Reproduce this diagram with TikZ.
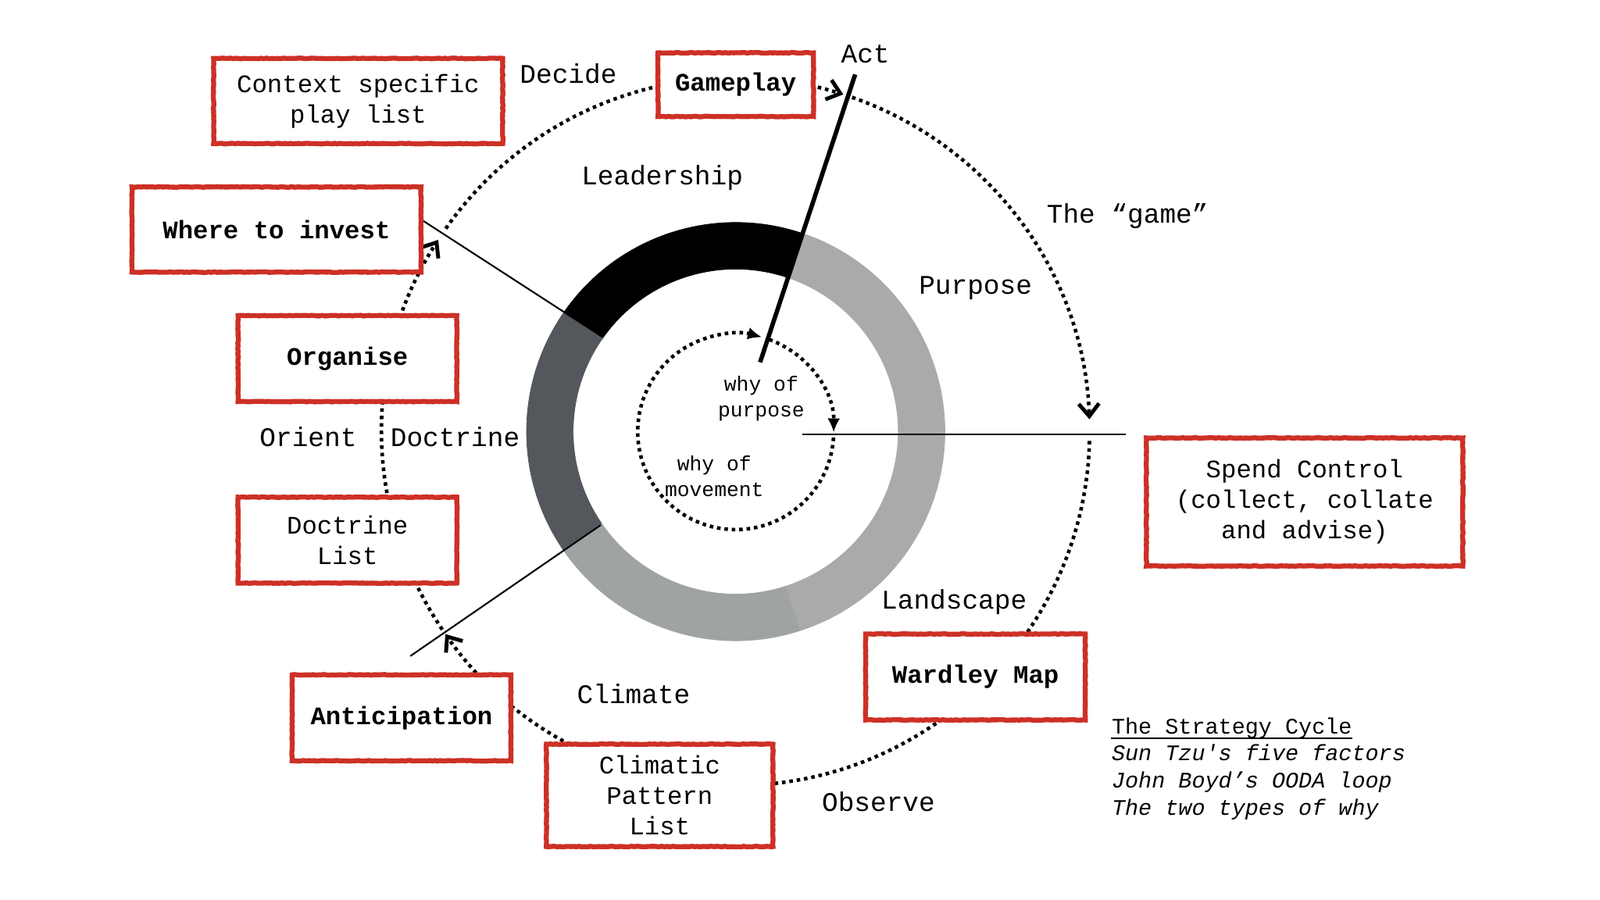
\documentclass[tikz,border=0pt]{standalone}
\usepackage{fontspec}
\setmainfont{Liberation Mono}
\usetikzlibrary{arrows.meta, positioning, decorations.pathmorphing}
\definecolor{boxRed}{RGB}{205, 48, 38}
\definecolor{ringDark}{RGB}{84, 88, 93}
\definecolor{ringMid}{RGB}{160, 163, 163}
\definecolor{ringLight}{RGB}{170, 170, 170}

\begin{document}
\begin{tikzpicture}[
    cyclebox/.style={
        rectangle,
        draw=boxRed,
        line width=1.8pt,
        fill=white,
        align=center,
        inner sep=0pt,
        font=\fontsize{9.2}{11.1}\selectfont,
        decorate,
        decoration={random steps, segment length=1pt, amplitude=0.12pt}
    },
    keybox/.style={
        cyclebox,
        font=\fontsize{9.2}{11.1}\selectfont\bfseries
    },
    steplabel/.style={
        font=\fontsize{9.8}{11.8}\selectfont,
        inner sep=1pt
    },
    whylabel/.style={
        font=\fontsize{7.5}{9.3}\selectfont,
        align=center,
        inner sep=0pt
    },
    legendtitle/.style={
        font=\fontsize{8.1}{9.9}\selectfont,
        inner sep=0pt
    },
    legendline/.style={
        font=\fontsize{8.1}{9.9}\selectfont\itshape,
        inner sep=0pt
    },
    cyclearc/.style={
        line width=1.3pt,
        dash pattern=on 1.3pt off 1.4pt
    },
    divider/.style={
        line width=0.6pt
    },
    openhead/.style={-{Straight Barb[length=1.6mm, width=2.6mm, line width=1.4pt]}},
    solidhead/.style={-{Latex[length=1.8mm, width=1.6mm]}}
]
\useasboundingbox (-9.416,-5.995) rectangle (11.062,5.524);

% Ring - Leadership, Doctrine, Climate, Landscape
\foreach \a/\b/\c in {71.3/145/black, 145/214.6/ringDark, 214.6/288/ringMid, 288/431.3/ringLight}
    \filldraw[fill=\c, draw=\c, line width=0.2pt] (\a:2.677) arc[start angle=\a, end angle=\b, radius=2.677]
        -- (\b:2.08) arc[start angle=\b, end angle=\a, radius=2.08] -- cycle;

% Dividers
\coordinate (acttop) at (71.5:4.82);
\coordinate (actend) at (70.6:0.94);
\coordinate (investin) at (144.6:2.09);
\coordinate (investout) at (146:4.82);
\coordinate (lowin) at (214.7:2.1);
\coordinate (lowout) at (214.6:5.06);
\coordinate (hin) at (0.85,-0.04);
\coordinate (hout) at (4.99,-0.04);

% Outer loop - Observe, Orient, Decide, Act
\draw[cyclearc] (145:4.53) arc[start angle=145, end angle=95, radius=4.53];
\draw[cyclearc, openhead] (85:4.53) arc[start angle=85, end angle=72.3, radius=4.53];
\draw[cyclearc, openhead] (70.8:4.53) arc[start angle=70.8, end angle=2, radius=4.53];
\draw[cyclearc, openhead] (-1.5:4.53) arc[start angle=-1.5, end angle=-145.1, radius=4.53];
\draw[cyclearc, openhead] (214:4.53) arc[start angle=214, end angle=147.2, radius=4.53];

% Inner loop - the two types of why
\draw[cyclearc, solidhead] (70:1.254) arc[start angle=70, end angle=-0.5, radius=1.254];
\draw[cyclearc, solidhead] (-3.5:1.254) arc[start angle=-3.5, end angle=-285.5, radius=1.254];

\draw[line width=1.6pt] (acttop) -- (actend);
\draw[divider] (investout) -- (investin);
\draw[divider] (lowout) -- (lowin);
\draw[divider] (hin) -- (hout);

% Boxes
\node[cyclebox, minimum width=3.7cm, minimum height=1.09cm] (playlist) at (-4.832,4.231) {Context specific\\play list};
\node[keybox, minimum width=1.99cm, minimum height=0.815cm] (gameplay) at (0,4.44) {Gameplay};
\node[keybox, minimum width=3.7cm, minimum height=1.09cm] (invest) at (-5.877,2.586) {Where to invest};
\node[keybox, minimum width=2.8cm, minimum height=1.1cm] (organise) at (-4.969,0.934) {Organise};
\node[cyclebox, minimum width=2.8cm, minimum height=1.1cm, below=1.16cm of organise] (doctrinelist) {Doctrine\\List};
\node[keybox, minimum width=2.8cm, minimum height=1.1cm] (anticipation) at (-4.277,-3.663) {Anticipation};
\node[cyclebox, minimum width=2.9cm, minimum height=1.31cm] (climatic) at (-0.973,-4.656) {Climatic\\Pattern\\List};
\node[keybox, minimum width=2.81cm, minimum height=1.1cm] (wardley) at (3.069,-3.141) {Wardley Map};
\node[cyclebox, minimum width=4.05cm, minimum height=1.64cm] (spend) at (7.281,-0.901) {Spend Control\\(collect, collate\\and advise)};

% Labels
\node[steplabel] (decide) at (-2.142,4.584) {Decide};
\node[steplabel] (act) at (1.659,4.832) {Act};
\node[steplabel] (leadership) at (-0.940,3.252) {Leadership};
\node[steplabel] (game) at (5.015,2.756) {The “game”};
\node[steplabel] (purpose) at (3.069,1.841) {Purpose};
\node[steplabel] (orient) at (-5.472,-0.065) {Orient};
\node[steplabel, right=0.35cm of orient] (doctrine) {Doctrine};
\node[steplabel] (landscape) at (2.795,-2.181) {Landscape};
\node[steplabel] (climate) at (-1.306,-3.356) {Climate};
\node[steplabel] (observe) at (1.828,-4.741) {Observe};
\node[whylabel] (whypurpose) at (0.327,0.424) {why of\\purpose};
\node[whylabel] (whymovement) at (-0.274,-0.568) {why of\\movement};

% Legend
\node[legendtitle, anchor=base west] (lg1) at (4.806,-3.866) {The Strategy Cycle};
\draw[line width=0.5pt] ([yshift=-1.6pt]lg1.base west) -- ([yshift=-1.6pt]lg1.base east);
\node[legendline, below=0.347cm of lg1.base west, anchor=base west] (lg2) {Sun Tzu\textquotesingle s five factors};
\node[legendline, below=0.347cm of lg2.base west, anchor=base west] (lg3) {John Boyd’s OODA loop};
\node[legendline, below=0.347cm of lg3.base west, anchor=base west] (lg4) {The two types of why};

\end{tikzpicture}
\end{document}
